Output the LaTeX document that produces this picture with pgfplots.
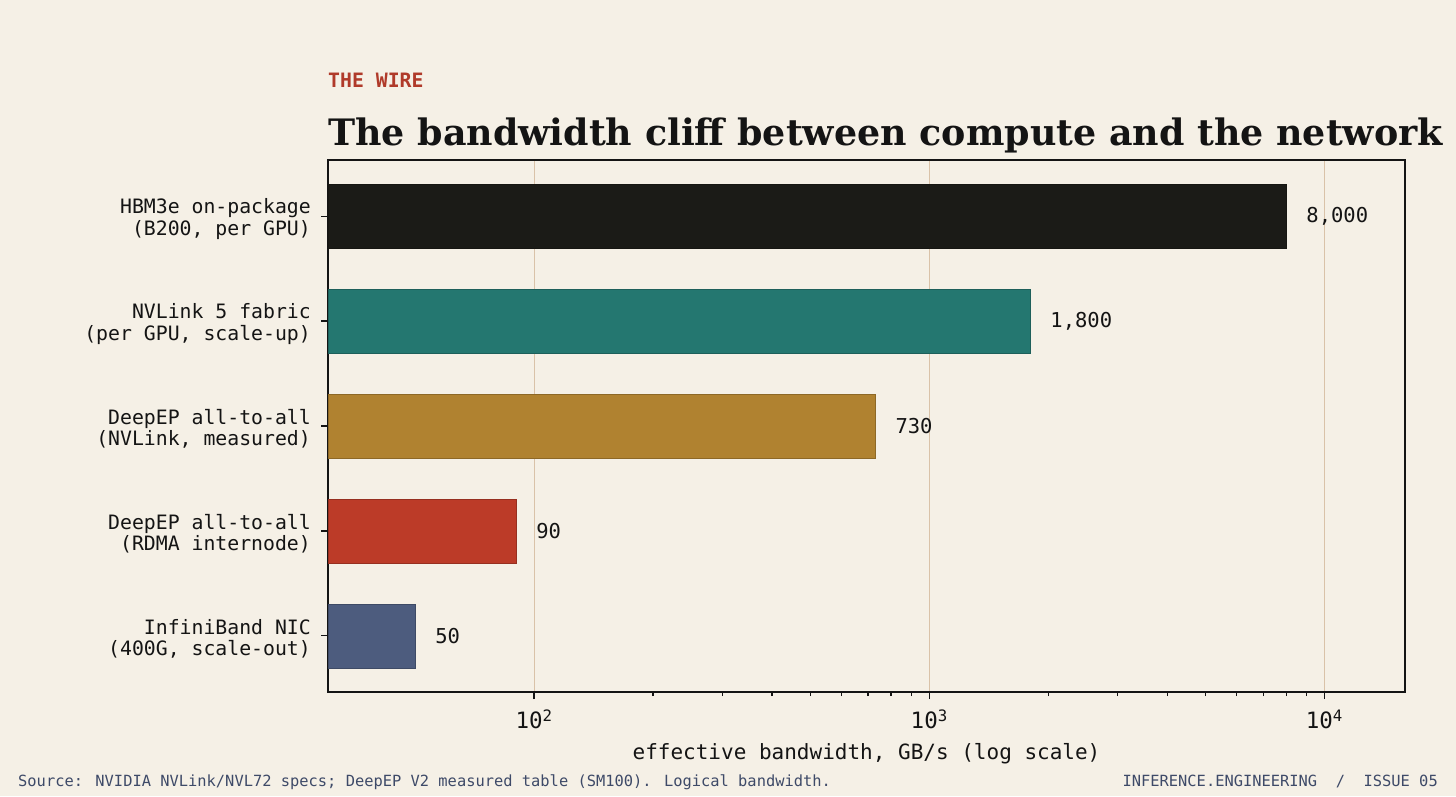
\documentclass[border=0pt]{standalone}
\usepackage{fontspec}
\setmainfont{DejaVu Sans Mono}
\newfontfamily\titlefont{DejaVu Serif}
\usepackage{pgfplots}
\pgfplotsset{compat=1.18}
\definecolor{bg}{HTML}{F5F0E6}
\definecolor{cblack}{HTML}{1B1B17}
\definecolor{cteal}{HTML}{247770}
\definecolor{cgold}{HTML}{B08230}
\definecolor{cred}{HTML}{BC3B28}
\definecolor{cslate}{HTML}{4D5C7E}
\definecolor{gridc}{HTML}{D9C2A8}
\definecolor{foot}{HTML}{3E4A68}
\definecolor{kicker}{HTML}{B03A2A}
\definecolor{ink}{HTML}{141414}
\begin{document}
\begin{tikzpicture}[x=1pt,y=1pt]
\fill[bg] (0,0) rectangle (1456,796);
\node[anchor=base west, inner sep=0, text=kicker, font=\fontsize{19.8}{22}\selectfont\bfseries] at (328,708) {THE WIRE};
\node[anchor=base west, inner sep=0, text=ink, font=\titlefont\fontsize{36.4}{40}\selectfont\bfseries] at (328,650) {The bandwidth cliff between compute and the network};
\node[anchor=base west, inner sep=0, text=foot, font=\fontsize{15.4}{18}\selectfont] at (18,10) {Source: NVIDIA NVLink/NVL72 specs; DeepEP V2 measured table (SM100). Logical bandwidth.};
\node[anchor=base east, inner sep=0, text=foot, font=\fontsize{15.4}{18}\selectfont] at (1438,10) {INFERENCE.ENGINEERING\ \ /\ \ ISSUE 05};
\begin{axis}[
  at={(328pt,104pt)}, anchor=south west,
  width=1077pt, height=532pt, scale only axis,
  xmode=log, log origin x=infty,
  xmin=30.1, xmax=16000,
  ymin=-0.535, ymax=4.535,
  xbar, bar shift=0pt, bar width=0.61,
  axis line style={ink, line width=1.6pt},
  tick style={ink, line width=1.2pt},
  tick align=outside, tick pos=left,
  major tick length=7pt, minor tick length=4pt,
  xtick={100,1000,10000},
  xticklabels={10\textsuperscript{2},10\textsuperscript{3},10\textsuperscript{4}},
  xticklabel style={font=\fontsize{22.5}{24}\selectfont, text=ink, yshift=-7pt},
  xmajorgrids, major grid style={gridc, line width=1.1pt},
  ytick={0,1,2,3,4},
  yticklabels={{InfiniBand NIC\\(400G, scale-out)},{DeepEP all-to-all\\(RDMA internode)},{DeepEP all-to-all\\(NVLink, measured)},{NVLink 5 fabric\\(per GPU, scale-up)},{HBM3e on-package\\(B200, per GPU)}},
  yticklabel style={font=\fontsize{19.8}{21.5}\selectfont, text=ink, align=right, inner sep=3pt, xshift=-7pt, yshift=-3pt},
  xlabel={effective bandwidth, GB/s (log scale)},
  xlabel style={font=\fontsize{21}{24}\selectfont, text=ink, yshift=-7pt},
  point meta=explicit symbolic,
  nodes near coords,
  nodes near coords style={font=\fontsize{20.5}{24}\selectfont, text=ink, anchor=west, inner sep=0pt, xshift=20pt},
  axis background/.style={fill=bg},
  clip=true,
]
\addplot[fill=cblack, draw=cblack!80!black, line width=0.6pt] coordinates {(8000,4) [{8,000}]};
\addplot[fill=cteal, draw=cteal!80!black, line width=0.6pt] coordinates {(1800,3) [{1,800}]};
\addplot[fill=cgold, draw=cgold!80!black, line width=0.6pt] coordinates {(730,2) [730]};
\addplot[fill=cred, draw=cred!80!black, line width=0.6pt] coordinates {(90,1) [90]};
\addplot[fill=cslate, draw=cslate!80!black, line width=0.6pt] coordinates {(50,0) [50]};
\end{axis}
\end{tikzpicture}
\end{document}
